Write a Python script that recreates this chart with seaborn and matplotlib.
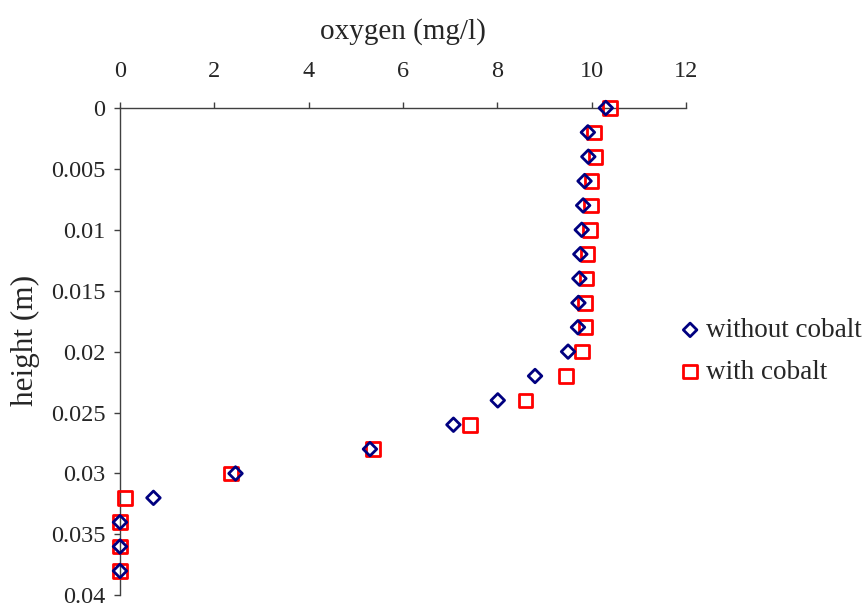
import matplotlib
matplotlib.use("Agg")
import matplotlib.pyplot as plt
import seaborn as sns
import pandas as pd

# Dissolved oxygen profile against height above the bottom
height = [0.000, 0.002, 0.004, 0.006, 0.008, 0.010, 0.012, 0.014, 0.016, 0.018,
          0.020, 0.022, 0.024, 0.026, 0.028, 0.030, 0.032, 0.034, 0.036, 0.038]
oxygen_without_cobalt = [10.30, 9.92, 9.93, 9.85, 9.82, 9.79, 9.76, 9.74, 9.72, 9.71,
                         9.50, 8.80, 8.01, 7.07, 5.30, 2.45, 0.71, 0.0, 0.0, 0.0]
oxygen_with_cobalt = [10.39, 10.05, 10.08, 10.00, 9.98, 9.96, 9.91, 9.89, 9.86, 9.87,
                      9.79, 9.46, 8.60, 7.42, 5.37, 2.35, 0.11, 0.0, 0.0, 0.0]

x_ticks = [0, 2, 4, 6, 8, 10, 12]
y_ticks = [0, 0.005, 0.01, 0.015, 0.02, 0.025, 0.03, 0.035, 0.04]
y_tick_labels = ["0", "0.005", "0.01", "0.015", "0.02", "0.025", "0.03", "0.035", "0.04"]

df_without = pd.DataFrame({"oxygen": oxygen_without_cobalt, "height": height})
df_with = pd.DataFrame({"oxygen": oxygen_with_cobalt, "height": height})

sns.set_theme(style="white")
plt.rcParams["font.family"] = ["Liberation Serif", "DejaVu Serif"]

fig = plt.figure(figsize=(8.68, 6.09), dpi=100)
ax = fig.add_axes([0.1382, 0.0225, 0.6521, 0.8002])

sns.scatterplot(data=df_without, x="oxygen", y="height", ax=ax, marker="D",
                s=48, facecolor="none", edgecolor="#000080", linewidth=2.0,
                clip_on=False, zorder=4, label="without cobalt")
sns.scatterplot(data=df_with, x="oxygen", y="height", ax=ax, marker="s",
                s=96, facecolor="none", edgecolor="#FF0000", linewidth=2.0,
                clip_on=False, zorder=3, label="with cobalt")

ax.set_xlim(0, 12)
ax.set_ylim(0.04, 0)
ax.set_xticks(x_ticks)
ax.set_xticklabels([str(t) for t in x_ticks])
ax.set_yticks(y_ticks)
ax.set_yticklabels(y_tick_labels)

tick_fs = 17.5
ax.xaxis.tick_top()
ax.xaxis.set_label_position("top")
ax.set_xlabel("oxygen (mg/l)", fontsize=21, labelpad=16)
ax.set_ylabel("height (m)", fontsize=22.5)
ax.yaxis.set_label_coords(-0.141, 0.523)
ax.tick_params(axis="x", which="major", direction="out", length=4.5, width=1,
               color="#404040", labelsize=tick_fs, pad=14, top=True, bottom=False)
ax.tick_params(axis="y", which="major", direction="out", length=4.5, width=1,
               color="#404040", labelsize=tick_fs, pad=6, left=True)

for side in ["right", "bottom"]:
    ax.spines[side].set_visible(False)
for side in ["left", "top"]:
    ax.spines[side].set_color("#404040")
    ax.spines[side].set_linewidth(1.0)

leg = ax.legend(loc="center left", bbox_to_anchor=(0.7857, 0.423),
                bbox_transform=fig.transFigure, frameon=False, fontsize=19.5,
                handlelength=0.6, handletextpad=0.3, labelspacing=0.62,
                borderpad=0, borderaxespad=0)

fig.savefig("out.png", dpi=100)
